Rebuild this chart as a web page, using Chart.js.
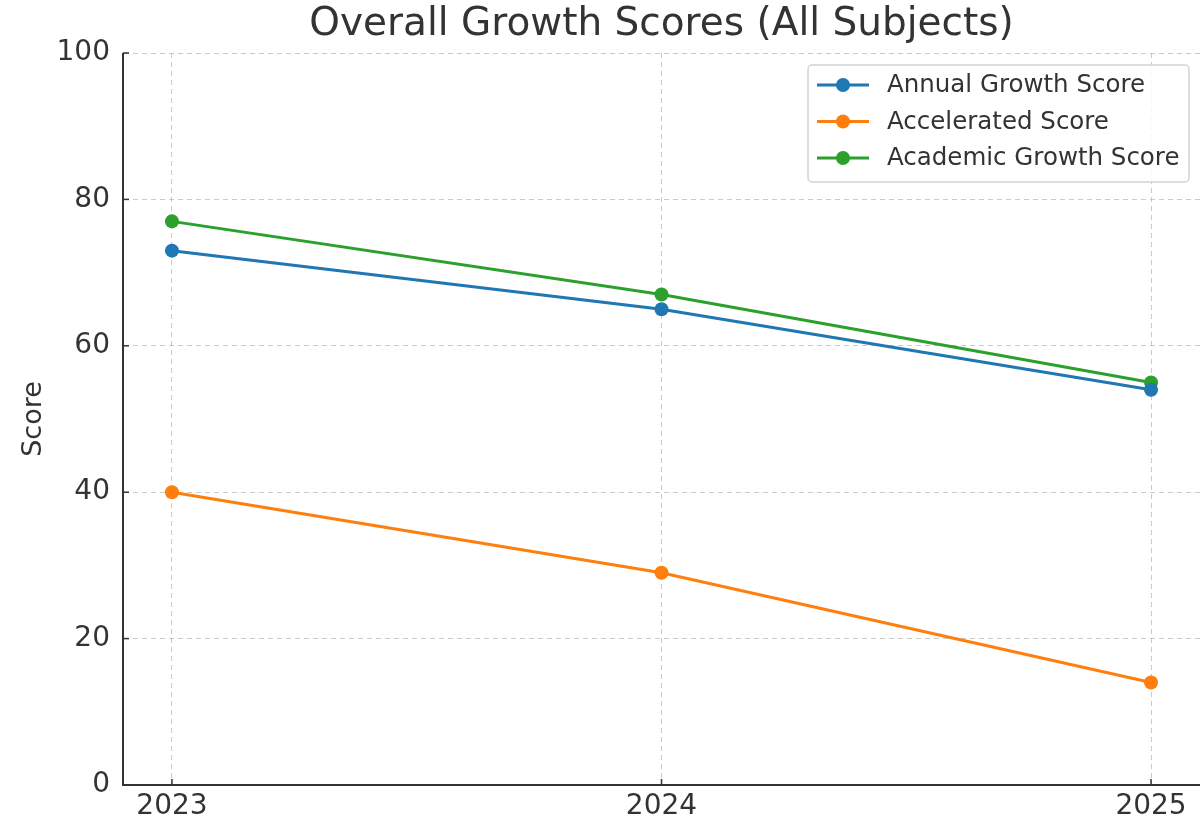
<!DOCTYPE html>
<html>
<head>
<meta charset="utf-8">
<script src="https://cdn.jsdelivr.net/npm/chart.js@4/dist/chart.umd.min.js"></script>
<style>
  body { margin: 0; background: #fff; }
  #wrap { width: 1201px; height: 826px; }
</style>
</head>
<body>
<div id="wrap"><canvas id="growthChart" width="1201" height="826"></canvas></div>
<script>
const years = [2023, 2024, 2025];
const annualGrowth = [73, 65, 54];
const accelerated = [40, 29, 14];
const academicGrowth = [77, 67, 55];
const yTicks = [0, 20, 40, 60, 80, 100];

const seriesNames = ['Annual Growth Score', 'Accelerated Score', 'Academic Growth Score'];
const seriesColors = ['#1f77b4', '#ff7f0e', '#2ca02c'];
const FONT = "'DejaVu Sans', sans-serif";

function points(values) {
  return values.map(function (v, i) { return { x: years[i], y: v }; });
}

function makeDataset(i, values) {
  return {
    label: seriesNames[i],
    data: points(values),
    borderColor: seriesColors[i],
    backgroundColor: seriesColors[i],
    borderWidth: 3,
    pointRadius: 7,
    pointHoverRadius: 7,
    pointBorderWidth: 0,
    tension: 0
  };
}

// title, inward tick marks, axis lines and the in-plot legend
const decorations = {
  id: 'decorations',
  afterDraw(chart) {
    const ctx = chart.ctx;
    const area = chart.chartArea;
    const xs = chart.scales.x;
    const ys = chart.scales.y;
    ctx.save();

    ctx.fillStyle = '#333';
    ctx.font = '39px ' + FONT;
    ctx.textAlign = 'center';
    ctx.textBaseline = 'middle';
    ctx.fillText('Overall Growth Scores (All Subjects)', (area.left + area.right) / 2, 25);

    // spines (solid, the grid is dashed)
    ctx.strokeStyle = '#333';
    ctx.lineWidth = 2;
    ctx.beginPath();
    ctx.moveTo(area.left, area.top);
    ctx.lineTo(area.left, area.bottom);
    ctx.lineTo(area.right, area.bottom);
    ctx.stroke();

    ctx.lineWidth = 1.5;
    ys.ticks.forEach(function (t) {
      const y = ys.getPixelForValue(t.value);
      ctx.beginPath();
      ctx.moveTo(area.left, y);
      ctx.lineTo(area.left + 6, y);
      ctx.stroke();
    });
    xs.ticks.forEach(function (t) {
      const x = xs.getPixelForValue(t.value);
      ctx.beginPath();
      ctx.moveTo(x, area.bottom);
      ctx.lineTo(x, area.bottom - 6);
      ctx.stroke();
    });

    // legend
    const bx = 808, by = 65, bw = 381, bh = 117;
    ctx.beginPath();
    ctx.roundRect(bx, by, bw, bh, 4);
    ctx.fillStyle = 'rgba(255,255,255,0.85)';
    ctx.fill();
    ctx.strokeStyle = '#d4d4d4';
    ctx.lineWidth = 1.5;
    ctx.stroke();

    ctx.font = '24.5px ' + FONT;
    ctx.textAlign = 'left';
    chart.data.datasets.forEach(function (ds, i) {
      const y = 85 + i * 36.5;
      ctx.strokeStyle = ds.borderColor;
      ctx.lineWidth = 3;
      ctx.beginPath();
      ctx.moveTo(817, y);
      ctx.lineTo(869, y);
      ctx.stroke();
      ctx.fillStyle = ds.borderColor;
      ctx.beginPath();
      ctx.arc(843, y, 7, 0, Math.PI * 2);
      ctx.fill();
      ctx.fillStyle = '#333';
      ctx.fillText(ds.label, 887, y + 1);
    });
    ctx.restore();
  }
};

const gridStyle = {
  color: 'rgba(185,185,185,0.75)',
  lineWidth: 1,
  drawTicks: false
};
const borderStyle = { color: 'rgba(0,0,0,0)', width: 2, dash: [5, 4] };

new Chart(document.getElementById('growthChart'), {
  type: 'line',
  data: {
    datasets: [
      makeDataset(0, annualGrowth),
      makeDataset(1, accelerated),
      makeDataset(2, academicGrowth)
    ]
  },
  options: {
    responsive: false,
    animation: false,
    events: [],
    layout: { autoPadding: false, padding: { top: 53, right: 1, left: 0, bottom: 0 } },
    plugins: {
      legend: { display: false },
      tooltip: { enabled: false }
    },
    scales: {
      x: {
        type: 'linear',
        min: years[0] - 0.1,
        max: years[years.length - 1] + 0.1,
        afterBuildTicks: function (scale) {
          scale.ticks = years.map(function (v) { return { value: v }; });
        },
        afterFit: function (scale) {
          scale.height = 41;
          scale.paddingLeft = 0;
          scale.paddingRight = 0;
        },
        grid: gridStyle,
        border: borderStyle,
        ticks: {
          callback: function (v) { return String(v); },
          color: '#333',
          font: { family: FONT, size: 28 },
          padding: 5,
          maxRotation: 0
        }
      },
      y: {
        min: 0,
        max: 100,
        afterBuildTicks: function (scale) {
          scale.ticks = yTicks.map(function (v) { return { value: v }; });
        },
        afterFit: function (scale) {
          scale.width = 123;
          scale.paddingTop = 0;
          scale.paddingBottom = 0;
        },
        grid: gridStyle,
        border: borderStyle,
        ticks: {
          color: '#333',
          font: { family: FONT, size: 28 },
          padding: 13
        },
        title: {
          display: true,
          text: 'Score',
          color: '#333',
          font: { family: FONT, size: 27 },
          padding: { top: 18, bottom: 0 }
        }
      }
    }
  },
  plugins: [decorations]
});
</script>
</body>
</html>
